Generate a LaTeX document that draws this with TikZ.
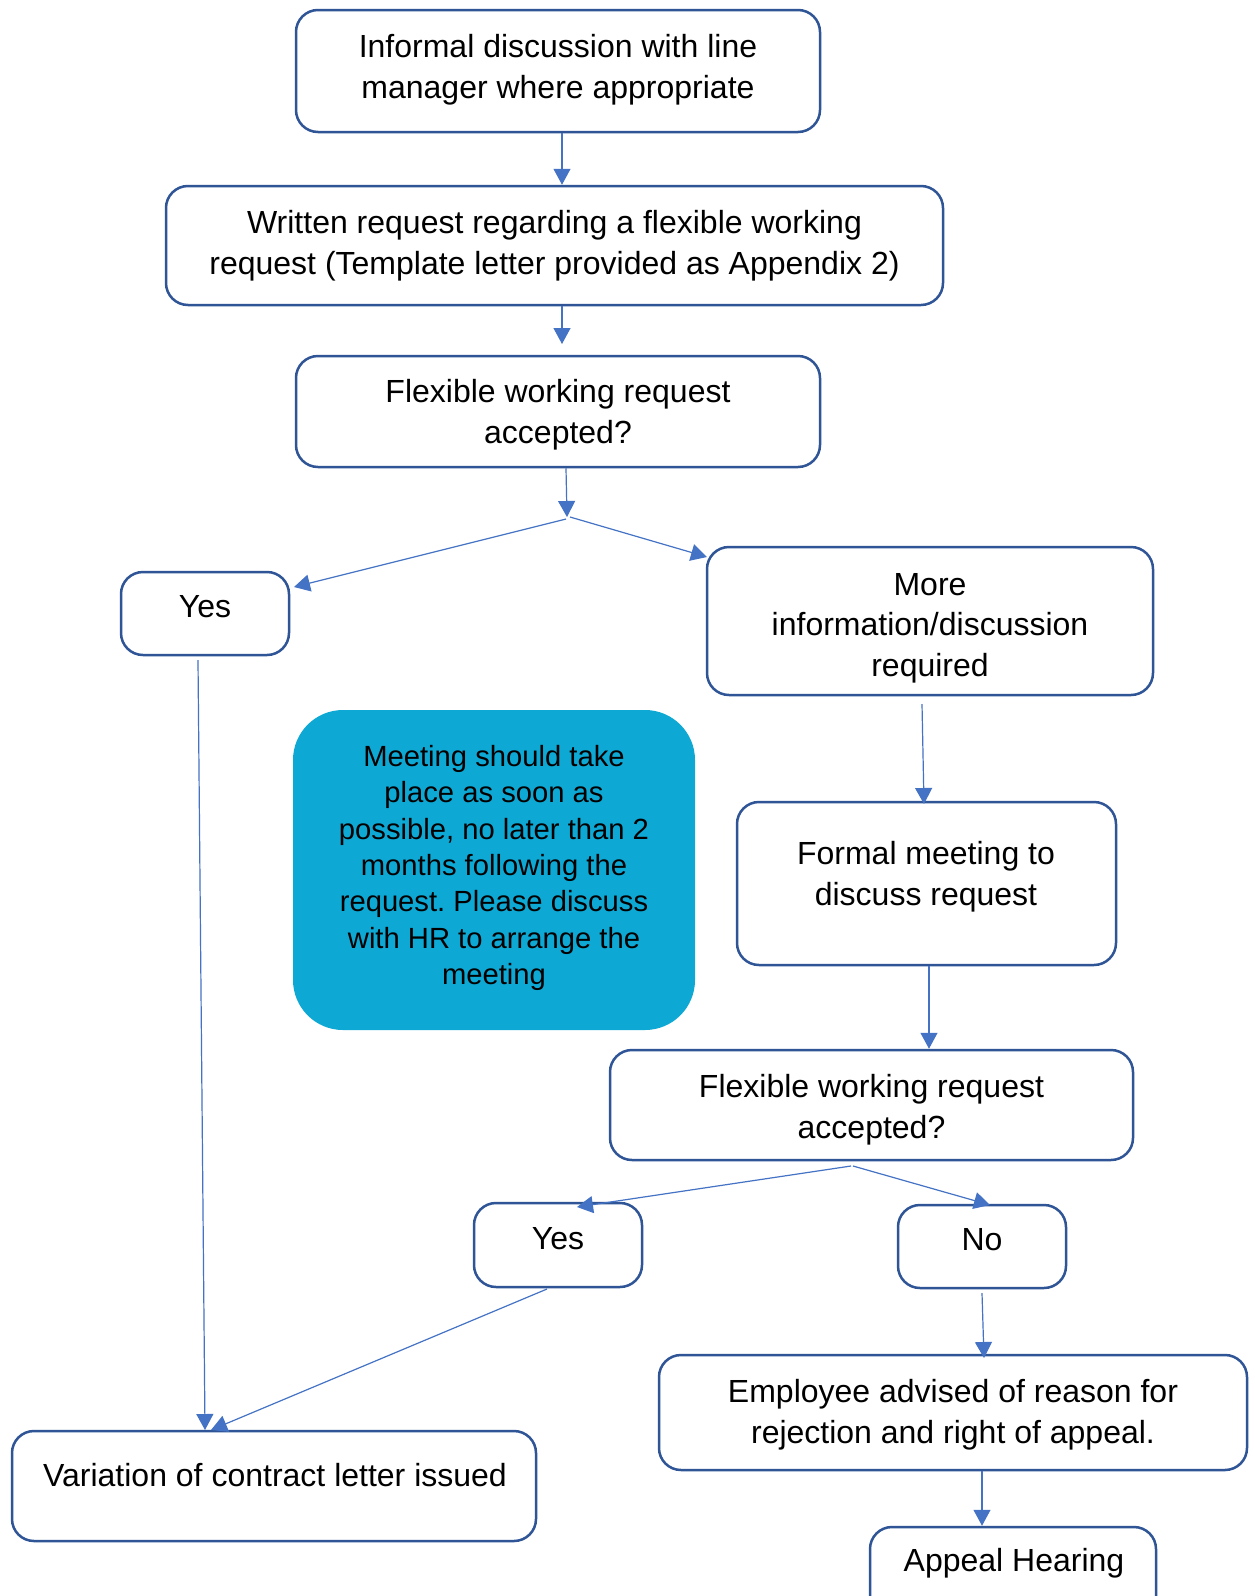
\documentclass[tikz,border=0pt]{standalone}
\usepackage{fontspec}
\setmainfont{Liberation Sans}
\frenchspacing
\usetikzlibrary{arrows.meta}
\definecolor{boxblue}{HTML}{2F5597}
\definecolor{linkblue}{HTML}{4472C4}
\definecolor{teal}{RGB}{14,168,212}
\tikzset{
  box/.style={draw=boxblue, line width=1.25pt, rounded corners=11pt, fill=white, inner sep=0pt},
  notebox/.style={fill=teal, rounded corners=25pt, inner sep=0pt},
  txt/.style={align=center, inner sep=0pt, font=\fontsize{16}{20.3}\selectfont},
  smalltxt/.style={align=center, inner sep=0pt, font=\fontsize{14.6}{18.2}\selectfont},
  conn/.style={draw=linkblue, line width=0.6pt, -{Triangle[width=8.5pt,length=8pt]}},
}
\begin{document}
\begin{tikzpicture}[x=0.5pt,y=-0.5pt]
\useasboundingbox (0,0) rectangle (1254,1596);
\fill[white] (0,0) rectangle (1254,1596);
% boxes
\node[box, minimum width=262pt, minimum height=61pt] (b1) at (558,71) {};
\node[txt] (t1) at (558,70) {Informal discussion with line\\manager where appropriate};
\node[box, minimum width=388.5pt, minimum height=59.5pt] (b2) at (554.5,245.5) {};
\node[txt] (t2) at (554.5,246) {Written request regarding a flexible working\\request (Template letter provided as Appendix 2)};
\node[box, minimum width=262pt, minimum height=55.5pt] (b3) at (558,411.5) {};
\node[txt] (t3) at (558,415) {Flexible working request\\accepted?};
\node[box, minimum width=84pt, minimum height=41.5pt] (yes1) at (205,613.5) {};
\node[txt] (tyes1) at (205,607) {Yes};
\node[box, minimum width=223pt, minimum height=74pt] (more) at (930,621) {};
\node[txt] (tmore) at (930,628) {More\\information/discussion\\required};
\node[notebox, minimum width=201pt, minimum height=160pt] (note) at (494,870) {};
\node[smalltxt] (tnote) at (494,868) {Meeting should take\\place as soon as\\possible, no later than 2\\months following the\\request. Please discuss\\with HR to arrange the\\meeting};
\node[box, minimum width=189.5pt, minimum height=81.5pt] (formal) at (926.5,883.5) {};
\node[txt] (tformal) at (926,877) {Formal meeting to\\discuss request};
\node[box, minimum width=261.5pt, minimum height=55pt] (b4) at (871.5,1105) {};
\node[txt] (t4) at (871.5,1110) {Flexible working request\\accepted?};
\node[box, minimum width=84pt, minimum height=42pt] (yes2) at (558,1245) {};
\node[txt] (tyes2) at (558,1239) {Yes};
\node[box, minimum width=84pt, minimum height=41.5pt] (no) at (982,1246.5) {};
\node[txt] (tno) at (982,1240) {No};
\node[box, minimum width=294pt, minimum height=57.5pt] (emp) at (953,1412.5) {};
\node[txt] (temp) at (953,1415) {Employee advised of reason for\\rejection and right of appeal.};
\node[box, minimum width=143pt, minimum height=46.5pt] (appeal) at (1013,1573.5) {};
\node[txt] (tappeal) at (1014,1563) {Appeal Hearing};
\node[box, minimum width=262pt, minimum height=55pt] (var) at (274,1486) {};
\node[txt] (tvar) at (275,1475) {Variation of contract letter issued};
% connector points
\coordinate (x1) at (562,0);
\coordinate (j1) at (567,517);
\coordinate (j1a) at (566,519);
\coordinate (j1b) at (570,517);
\coordinate (yes1tip) at (294,587);
\coordinate (moretip) at (707,557);
\coordinate (morebot) at (922,704);
\coordinate (formaltop) at (924,804);
\coordinate (x2) at (929,0);
\coordinate (j2) at (851,1166);
\coordinate (j2b) at (853,1166);
\coordinate (yes2tip) at (577,1207);
\coordinate (notip) at (990,1205);
\coordinate (nobot) at (982,1293);
\coordinate (emptop) at (984,1358);
\coordinate (x3) at (982,0);
\coordinate (yes1bot) at (198,660);
\coordinate (vartip1) at (205,1430);
\coordinate (yes2bot) at (547,1289);
\coordinate (vartip2) at (211,1430);
\coordinate (b3tip) at (562,344);
% connectors
\draw[conn] (b1.south -| x1) -- (b2.north -| x1);
\draw[conn] (b2.south -| x1) -- (b3tip);
\draw[conn] (b3.south -| j1) ++(-1,0) -- (j1);
\draw[conn] (j1a) -- (yes1tip);
\draw[conn] (j1b) -- (moretip);
\draw[conn] (morebot) -- (formaltop);
\draw[conn] (formal.south -| x2) -- (b4.north -| x2);
\draw[conn] (j2) -- (yes2tip);
\draw[conn] (j2b) -- (notip);
\draw[conn] (nobot) -- (emptop);
\draw[conn] (emp.south -| x3) -- (appeal.north -| x3);
\draw[conn] (yes1bot) -- (vartip1);
\draw[conn] (yes2bot) -- (vartip2);
\end{tikzpicture}
\end{document}
